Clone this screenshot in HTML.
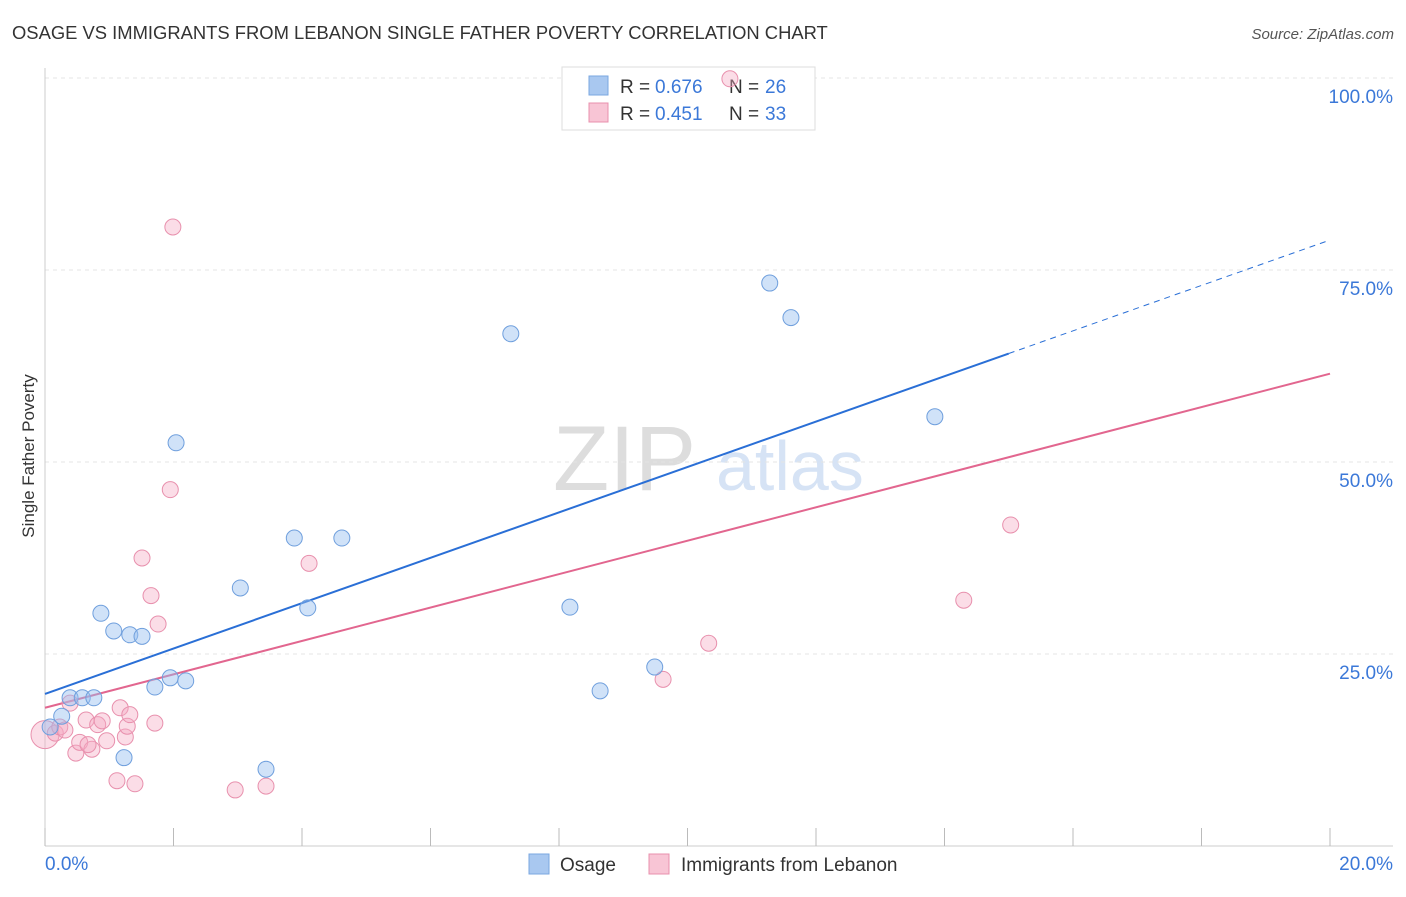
<!DOCTYPE html>
<html><head><meta charset="utf-8"><style>
body{margin:0;background:#fff;font-family:"Liberation Sans",sans-serif;}
svg text{font-family:"Liberation Sans",sans-serif;}
</style></head><body>
<svg id="chart" width="1406" height="892" xmlns="http://www.w3.org/2000/svg">
<text x="12" y="39" font-size="18.4" fill="#333">OSAGE VS IMMIGRANTS FROM LEBANON SINGLE FATHER POVERTY CORRELATION CHART</text>
<text x="1394" y="39" font-size="15" fill="#555" font-style="italic" text-anchor="end">Source: ZipAtlas.com</text>
<text transform="translate(34,456) rotate(-90)" font-size="17" fill="#333" text-anchor="middle">Single Father Poverty</text>
<g><text x="553" y="490" font-size="92" fill="#ddd" font-family="Liberation Serif,serif">ZIP</text><text x="716" y="490" font-size="70" fill="#d6e3f5">atlas</text></g>
<g id="grid"></g><g id="axes"></g><g id="lines"></g>
<g>
<rect x="562" y="67" width="253" height="63" fill="#fff" stroke="#ddd"/>
<rect x="589" y="76" width="19" height="19" fill="#a9c8f0" stroke="#7aa7e0"/>
<text x="620" y="93" font-size="19" fill="#333">R =</text><text x="655" y="93" font-size="19" fill="#3b78d8">0.676</text>
<text x="729" y="93" font-size="19" fill="#333">N =</text><text x="765" y="93" font-size="19" fill="#3b78d8">26</text>
<rect x="589" y="103" width="19" height="19" fill="#f8c5d5" stroke="#e890ad"/>
<text x="620" y="120" font-size="19" fill="#333">R =</text><text x="655" y="120" font-size="19" fill="#3b78d8">0.451</text>
<text x="729" y="120" font-size="19" fill="#333">N =</text><text x="765" y="120" font-size="19" fill="#3b78d8">33</text>
</g>
<g id="pts"></g>
<g>
<rect x="529" y="854" width="20" height="20" fill="#a9c8f0" stroke="#7aa7e0"/>
<text x="560" y="871" font-size="19" fill="#333">Osage</text>
<rect x="649" y="854" width="20" height="20" fill="#f8c5d5" stroke="#e890ad"/>
<text x="681" y="871" font-size="19" fill="#333">Immigrants from Lebanon</text>
</g>
</svg>
<script>
const blueX=[0.08,0.26,0.39,0.58,0.76,0.87,1.07,1.32,1.51,1.23,1.71,1.95,2.19,2.04,3.04,3.44,3.88,4.09,4.62,7.25,8.17,8.64,9.49,11.28,11.61,13.85];
const blueY=[15.5,16.9,19.3,19.3,19.3,30.3,28.0,27.5,27.3,11.5,20.7,21.9,21.5,52.5,33.6,10.0,40.1,31.0,40.1,66.7,31.1,20.2,23.3,73.3,68.8,55.9];
const pinkX=[0.0,0.16,0.23,0.39,0.48,0.54,0.64,0.73,0.82,0.89,0.96,1.12,1.17,1.25,1.28,1.40,1.51,1.65,1.71,1.76,1.95,1.99,2.96,3.44,4.11,10.33,9.62,10.66,14.30,15.03,0.31,0.67,1.32];
const pinkY=[14.5,14.7,15.5,18.6,12.1,13.5,16.4,12.6,15.8,16.3,13.7,8.5,18.0,14.2,15.6,8.1,37.5,32.6,16.0,28.9,46.4,80.6,7.3,7.8,36.8,26.4,21.7,99.9,32.0,41.8,15.1,13.2,17.1];
const yTicks=[25,50,75,100];
const yTickLabels=["25.0%","50.0%","75.0%","100.0%"];
const xTickLabels=["0.0%","20.0%"];
const blueTrend=[19.8,78.9];
const pinkTrend=[18.0,61.5];
const blueSolidEnd=15.0;
const NS="http://www.w3.org/2000/svg";
const sx=v=>45+v*64.25, sy=v=>846-v*7.68;
function mk(tag,attrs,parent){const e=document.createElementNS(NS,tag);for(const k in attrs)e.setAttribute(k,attrs[k]);document.getElementById(parent).appendChild(e);return e;}
yTicks.forEach((t,i)=>{
 const l=mk('line',{x1:45,x2:1393,y1:sy(t),y2:sy(t),stroke:'#e4e4e4','stroke-dasharray':'4,4'},'grid');
 
 
 const tx=mk('text',{x:1393,y:sy(t)+25,'font-size':19,fill:'#3b78d8','text-anchor':'end'},'grid');tx.textContent=yTickLabels[i];
 
 
});
mk('line',{x1:45,x2:45,y1:68,y2:846,stroke:'#ccc'},'axes');
mk('line',{x1:45,x2:1393,y1:846,y2:846,stroke:'#ccc'},'axes');
for(let i=0;i<=10;i++){const t=mk('line',{x1:sx(i*2),x2:sx(i*2),y1:828,y2:846,stroke:'#bbb'},'axes');
 
 }
let a=mk('text',{x:45,y:870,'font-size':19,fill:'#3b78d8'},'axes');a.textContent=xTickLabels[0];


a=mk('text',{x:1393,y:870,'font-size':19,fill:'#3b78d8','text-anchor':'end'},'axes');a.textContent=xTickLabels[1];


const by=x=>blueTrend[0]+(blueTrend[1]-blueTrend[0])*x/20;
let l=mk('line',{x1:sx(0),y1:sy(by(0)),x2:sx(blueSolidEnd),y2:sy(by(blueSolidEnd)),stroke:'#2a6fd6','stroke-width':2},'lines');


l=mk('line',{x1:sx(blueSolidEnd),y1:sy(by(blueSolidEnd)),x2:sx(20),y2:sy(by(20)),stroke:'#2a6fd6','stroke-width':1,'stroke-dasharray':'6,5'},'lines');


l=mk('line',{x1:sx(0),y1:sy(pinkTrend[0]),x2:sx(20),y2:sy(pinkTrend[1]),stroke:'#e2668f','stroke-width':2},'lines');


pinkX.forEach((x,i)=>{const c=mk('circle',{cx:sx(x),cy:sy(pinkY[i]),r:i==0?14:8,fill:'rgba(245,170,195,0.4)',stroke:'#e890ad','stroke-width':1},'pts');
 
 });
blueX.forEach((x,i)=>{const c=mk('circle',{cx:sx(x),cy:sy(blueY[i]),r:8,fill:'rgba(150,190,240,0.45)',stroke:'#6f9fdd','stroke-width':1},'pts');
 
 });
</script>
</body></html>
